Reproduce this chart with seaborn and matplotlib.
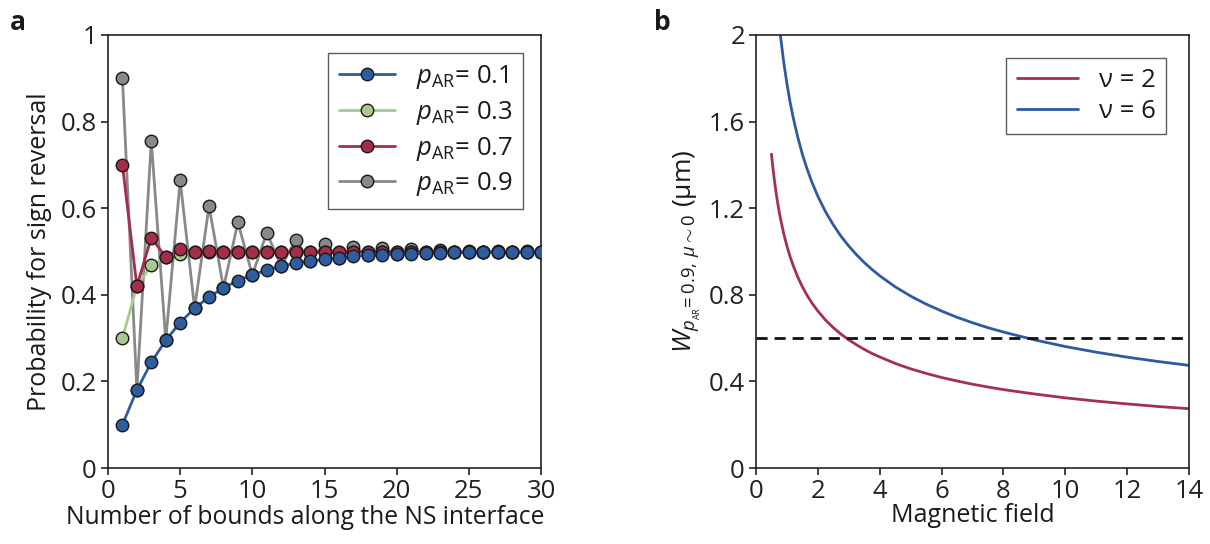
import matplotlib.pyplot as plt
import numpy as np
import pandas as pd
import seaborn as sb

# panel a: probability for sign reversal vs number of bounds
n_bounds = list(range(1, 31))
p_01 = [0.100, 0.180, 0.244, 0.295, 0.336, 0.369, 0.395, 0.416, 0.433, 0.446,
        0.457, 0.466, 0.473, 0.478, 0.482, 0.486, 0.489, 0.491, 0.493, 0.494,
        0.495, 0.496, 0.497, 0.498, 0.498, 0.498, 0.499, 0.499, 0.499, 0.499]
p_03 = [0.300, 0.420, 0.468, 0.487, 0.495, 0.498, 0.499, 0.500, 0.500, 0.500,
        0.500, 0.500, 0.500, 0.500, 0.500, 0.500, 0.500, 0.500, 0.500, 0.500,
        0.500, 0.500, 0.500, 0.500, 0.500, 0.500, 0.500, 0.500, 0.500, 0.500]
p_07 = [0.700, 0.420, 0.532, 0.487, 0.505, 0.498, 0.501, 0.500, 0.500, 0.500,
        0.500, 0.500, 0.500, 0.500, 0.500, 0.500, 0.500, 0.500, 0.500, 0.500,
        0.500, 0.500, 0.500, 0.500, 0.500, 0.500, 0.500, 0.500, 0.500, 0.500]
p_09 = [0.900, 0.180, 0.756, 0.295, 0.664, 0.369, 0.605, 0.416, 0.567, 0.446,
        0.543, 0.466, 0.527, 0.478, 0.518, 0.486, 0.511, 0.491, 0.507, 0.494,
        0.505, 0.496, 0.503, 0.498, 0.502, 0.498, 0.501, 0.499, 0.501, 0.499]
p_labels = ["0.1", "0.3", "0.7", "0.9"]

# panel b: width vs magnetic field
field = [0.5, 0.55, 0.6, 0.65, 0.7, 0.75, 0.8, 0.9, 1.0, 1.1, 1.2, 1.35, 1.5,
         1.65, 1.8, 2.0, 2.25, 2.5, 2.75, 3.0, 3.25, 3.5, 3.75, 4.0, 4.5, 5.0,
         5.5, 6.0, 6.5, 7.0, 7.5, 8.0, 9.0, 10.0, 11.0, 12.0, 13.0, 14.0]
w_nu2 = [1.450, 1.382, 1.323, 1.271, 1.225, 1.184, 1.146, 1.080, 1.025, 0.977,
         0.936, 0.882, 0.837, 0.798, 0.764, 0.725, 0.683, 0.648, 0.618, 0.592,
         0.569, 0.548, 0.529, 0.513, 0.483, 0.458, 0.437, 0.418, 0.402, 0.387,
         0.374, 0.362, 0.342, 0.324, 0.309, 0.296, 0.284, 0.274]
w_nu6 = [2.510, 2.393, 2.292, 2.202, 2.122, 2.050, 1.985, 1.871, 1.775, 1.692,
         1.620, 1.528, 1.449, 1.382, 1.323, 1.255, 1.183, 1.123, 1.070, 1.025,
         0.985, 0.949, 0.917, 0.888, 0.837, 0.794, 0.757, 0.725, 0.696, 0.671,
         0.648, 0.628, 0.592, 0.561, 0.535, 0.512, 0.492, 0.474]
w_threshold = 0.6

if __name__ == "__main__":
    sb.set_style("ticks")
    plt.rcParams["font.family"] = ["Open Sans", "DejaVu Sans"]
    plt.rcParams["mathtext.fontset"] = "custom"
    plt.rcParams["mathtext.rm"] = "Open Sans"
    plt.rcParams["mathtext.it"] = "Open Sans:italic"
    plt.rcParams["axes.edgecolor"] = "#222222"
    plt.rcParams["axes.linewidth"] = 1.2
    plt.rcParams["xtick.major.width"] = 1.2
    plt.rcParams["ytick.major.width"] = 1.2
    plt.rcParams["xtick.major.size"] = 5
    plt.rcParams["ytick.major.size"] = 5
    plt.rcParams["xtick.color"] = "#222222"
    plt.rcParams["ytick.color"] = "#222222"
    plt.rcParams["text.color"] = "#1a1a1a"
    plt.rcParams["axes.labelcolor"] = "#1a1a1a"

    fig = plt.figure(figsize=(12.1, 5.44), dpi=100)
    ax1 = fig.add_axes([108 / 1210, 1 - 468 / 544, 433 / 1210, 433 / 544])
    ax2 = fig.add_axes([756 / 1210, 1 - 468 / 544, 433 / 1210, 433 / 544])

    colors = ["#2F5C9E", "#A8C98F", "#A32D4B", "#898989"]
    series = [p_01, p_03, p_07, p_09]
    zorders = [5, 3, 4, 2]
    for vals, lab, col, z in zip(series, p_labels, colors, zorders):
        df = pd.DataFrame({"n": n_bounds, "p": vals})
        sb.lineplot(data=df, x="n", y="p", ax=ax1, color=col, lw=2,
                    marker="o", markersize=9, markeredgecolor="#1a1a1a",
                    markeredgewidth=1.0, zorder=z,
                    label=r"$p_{\mathrm{AR}}$= " + lab)
    ax1.set_xlim(0, 30)
    ax1.set_ylim(0, 1)
    ax1.set_xticks([0, 5, 10, 15, 20, 25, 30])
    ax1.set_yticks([0, 0.2, 0.4, 0.6, 0.8, 1])
    ax1.set_yticklabels(["0", "0.2", "0.4", "0.6", "0.8", "1"])
    ax1.tick_params(labelsize=18.5, pad=3)
    ax1.set_xlabel("Number of bounds along the NS interface", fontsize=17.7)
    ax1.xaxis.set_label_coords(0.455, -0.085)
    ax1.set_ylabel("Probability for sign reversal", fontsize=18, labelpad=6)
    leg = ax1.legend(loc="upper right", fontsize=18.5, frameon=True, fancybox=False,
                     edgecolor="#333333", borderaxespad=0.7, handlelength=2.2,
                     labelspacing=0.3)
    leg.get_frame().set_linewidth(1.0)

    df2 = pd.DataFrame({"B": field, "nu2": w_nu2, "nu6": w_nu6})
    sb.lineplot(data=df2, x="B", y="nu2", ax=ax2, color="#A3304F", lw=2,
                label="ν = 2")
    sb.lineplot(data=df2, x="B", y="nu6", ax=ax2, color="#2F5A9F", lw=2,
                label="ν = 6")
    ax2.axhline(w_threshold, color="#111111", lw=2, ls=(0, (4, 2.5)))
    ax2.set_xlim(0, 14)
    ax2.set_ylim(0, 2)
    ax2.set_xticks([0, 2, 4, 6, 8, 10, 12, 14])
    ax2.set_yticks([0, 0.4, 0.8, 1.2, 1.6, 2])
    ax2.set_yticklabels(["0", "0.4", "0.8", "1.2", "1.6", "2"])
    ax2.tick_params(labelsize=18.5, pad=3)
    ax2.set_xlabel("Magnetic field", fontsize=18, labelpad=-1)
    ax2.set_ylabel(r"$W_{p_{_{\mathrm{AR}}}\!=0.9,\,\mu\sim0}$ (μm)", fontsize=19, labelpad=4)
    leg2 = ax2.legend(loc="upper right", fontsize=18.5, frameon=True, fancybox=False,
                      edgecolor="#333333", borderaxespad=0.9, handlelength=2.4,
                      labelspacing=0.2)
    leg2.get_frame().set_linewidth(1.0)

    fig.text(10 / 1210, 1 - 22 / 544, "a", fontsize=19, fontweight="bold", va="center")
    fig.text(654 / 1210, 1 - 22 / 544, "b", fontsize=19, fontweight="bold", va="center")

    plt.savefig("out.png", dpi=100)
    plt.close()
